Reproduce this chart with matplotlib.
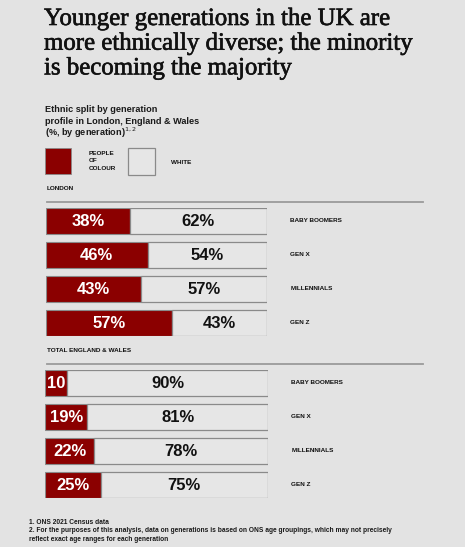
import matplotlib
matplotlib.use("Agg")
import matplotlib.pyplot as plt
import matplotlib.patheffects as pe
from matplotlib.patches import Rectangle

# ---- data ----
generations = ["BABY BOOMERS", "GEN X", "MILLENNIALS", "GEN Z"]
london_poc = [38, 46, 43, 57]
london_white = [62, 54, 57, 43]
ew_poc = [10, 19, 22, 25]
ew_white = [90, 81, 78, 75]
ew_poc_labels = ["10", "19%", "22%", "25%"]
london_poc_labels = [f"{v}%" for v in london_poc]
title_lines = ["Younger generations in the UK are",
               "more ethnically diverse; the minority",
               "is becoming the majority"]
subtitle = ["Ethnic split by generation", "profile in London, England & Wales", "(%, by generation)$^{1,2}$"]
footnotes = ["1. ONS 2021 Census data",
             "2. For the purposes of this analysis, data on generations is based on ONS age groupings, which may not precisely",
             "reflect exact age ranges for each generation"]

BG = "#e3e3e3"
RED = "#8b0000"
WHITE_FILL = "#e6e6e6"
EDGE = "#8a8a8a"

W, H = 465, 547
fig = plt.figure(figsize=(W / 100, H / 100), dpi=100, facecolor=BG)

def fx(x):
    return x / W

def fy(y):
    return 1 - y / H

SANS = ["Liberation Sans", "DejaVu Sans"]

# title
for i, line in enumerate(title_lines):
    fig.text(fx(44), fy(25 + i * 24.7), line, family=["Liberation Serif", "DejaVu Serif"],
             fontsize=17.9, va="baseline", ha="left", color="#111111",
             path_effects=[pe.withStroke(linewidth=0.45, foreground="#111111")])

# subtitle
for i, line in enumerate(subtitle):
    fig.text(fx(45), fy(110 + i * 11.5), line, family=SANS, fontsize=6.6, fontweight="bold",
             va="center", ha="left", color="#1a1a1a")

# legend
fig.patches.append(Rectangle((fx(45), fy(174)), fx(26), 26 / H, transform=fig.transFigure,
                             facecolor=RED, edgecolor=EDGE, linewidth=0.6))
fig.patches.append(Rectangle((fx(128), fy(175)), fx(27), 27 / H, transform=fig.transFigure,
                             facecolor=WHITE_FILL, edgecolor=EDGE, linewidth=0.9))
for i, w in enumerate(["PEOPLE", "OF", "COLOUR"]):
    fig.text(fx(89), fy(153 + i * 8), w, family=SANS, fontsize=4.6, fontweight="bold",
             va="center", ha="left", color="#111111")
fig.text(fx(171), fy(162), "WHITE", family=SANS, fontsize=4.6, fontweight="bold",
         va="center", ha="left", color="#111111")

# group labels and dividers
fig.text(fx(47), fy(188), "LONDON", family=SANS, fontsize=4.6, fontweight="bold",
         va="center", ha="left", color="#111111")
fig.text(fx(47), fy(350), "TOTAL ENGLAND & WALES", family=SANS, fontsize=4.6, fontweight="bold",
         va="center", ha="left", color="#111111")
for yy in (202, 364):
    fig.add_artist(plt.Line2D([fx(47), fx(423)], [fy(yy), fy(yy)], transform=fig.transFigure,
                              color="#9a9a9a", linewidth=1.3))

bar_h = 26 / 34

def draw_group(left_px, width_px, top_px, poc, white, poc_labels):
    ax = fig.add_axes([fx(left_px), fy(top_px + 128), width_px / W, 128 / H])
    ax.set_facecolor("none")
    y = list(range(len(generations)))
    ax.barh(y, poc, height=bar_h, color=RED, edgecolor=EDGE, linewidth=0.8)
    ax.barh(y, white, left=poc, height=bar_h, color=WHITE_FILL, edgecolor=EDGE, linewidth=0.9)
    for yi, p, wv, pl in zip(y, poc, white, poc_labels):
        ax.text(p / 2, yi, pl, ha="center", va="center", color="white", family=SANS,
                fontsize=12, fontweight="bold")
        ax.text(p + wv / 2, yi, f"{wv}%", ha="center", va="center", color="#111111", family=SANS,
                fontsize=12, fontweight="bold")
        ax.text(110.5, yi, generations[yi], ha="left", va="center", color="#111111", family=SANS,
                fontsize=4.6, fontweight="bold", clip_on=False)
    ax.set_xlim(0, 100)
    half = bar_h / 2
    ax.set_ylim(3 + half, -half)
    ax.axis("off")

draw_group(46, 221, 208, london_poc, london_white, london_poc_labels)
draw_group(45, 223, 370, ew_poc, ew_white, ew_poc_labels)

# footnotes
for i, line in enumerate(footnotes):
    fig.text(fx(29), fy(522 + i * 8.6), line, family=SANS, fontsize=4.8, fontweight="bold",
             va="center", ha="left", color="#1a1a1a")

fig.savefig("out.png", dpi=100, facecolor=BG)
